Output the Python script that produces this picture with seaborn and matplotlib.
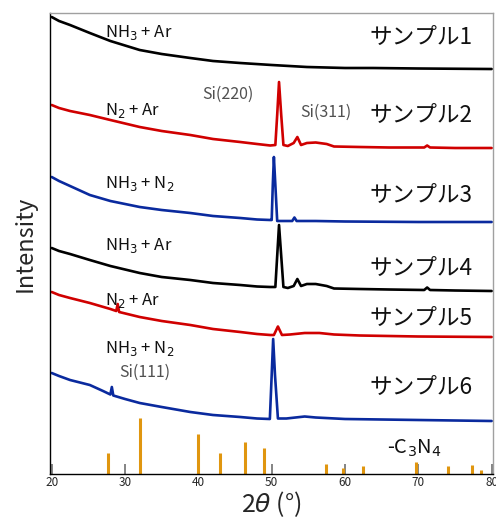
import numpy as np
import pandas as pd
import matplotlib
matplotlib.use("Agg")
import matplotlib.pyplot as plt
import seaborn as sns

# ---- data (intensity in display units, traces already stacked) ----
x1 = [20, 21, 22.5, 25.2, 28, 32, 35, 38.9, 42, 45.7, 50, 54.8, 60, 63.8, 70, 79.7, 80]
y1 = [457, 453, 449, 441, 433, 424, 420, 416, 413, 411, 409, 407, 406, 406, 405.5, 405, 405]

x2 = [20, 21, 22.5, 25.2, 28, 32, 35, 38.9, 42, 45.7, 48, 49.8, 50.5, 50.75, 51.0, 51.3, 51.6,
      52.2, 53.0, 53.5, 54.0, 54.8, 56.0, 57.5, 58.5, 62, 66, 70.8, 71.2, 71.6, 75, 80]
y2 = [369, 366, 363, 359, 354, 347, 343, 339, 335, 332, 330, 328.5, 329, 359, 392, 359, 329,
      328, 331, 337, 329, 331, 331.5, 330, 327.5, 327, 326.5, 326.5, 328.5, 326.5, 326, 326]

x3 = [20, 21, 22.5, 25.2, 28, 32, 35, 38.9, 42, 45.7, 48, 49.8, 50.0, 50.15, 50.3, 50.5, 50.75,
      52.8, 53.1, 53.4, 56, 60, 70, 80]
y3 = [297, 293, 288, 279, 273, 267, 264, 261, 258, 256, 254.5, 254, 254, 289, 317, 289, 253,
      253, 256.5, 253, 253, 252.5, 252, 252]

x4 = [20, 21, 22.5, 25.2, 28, 32, 35, 38.9, 42, 45.7, 48, 49.8, 50.5, 50.75, 51.0, 51.3, 51.6,
      52.2, 53.0, 53.5, 54.0, 54.8, 56.0, 57.5, 58.5, 62, 66, 70.8, 71.2, 71.6, 75, 80]
y4 = [226, 223, 220, 214, 208, 201, 197, 194, 191, 189, 187.5, 187, 187, 218, 249, 218, 187,
      186, 188, 195, 188, 190, 190, 188, 185.5, 185, 184.5, 184, 186.5, 184, 183.5, 183]

x5 = [20, 21, 22.5, 25.2, 28, 28.8, 29.0, 29.2, 32, 35, 38.9, 42, 45.7, 48, 49.8, 50.3, 50.85,
      51.4, 52.5, 54.5, 56.5, 58.5, 62, 70, 80]
y5 = [182, 179, 176, 171, 165, 163, 170, 162, 157, 153, 149, 145, 142, 140, 139, 139, 147.5,
      139, 139.5, 141, 141, 139.5, 138.5, 137.5, 137]

x6 = [20, 21, 22.5, 25.2, 27, 28.0, 28.2, 28.4, 30, 32, 35, 38.9, 42, 45.7, 48, 49.75, 50.0,
      50.2, 50.45, 50.85, 52, 54.5, 56, 60, 70, 80]
y6 = [101, 98, 94, 89, 83, 79.5, 87, 78.5, 75, 71, 67, 62, 59, 57, 55.5, 55, 99,
      135, 99, 55.5, 55.5, 57.5, 56.5, 55, 54, 53]

stick_pos = [27.7, 32.0, 39.9, 42.9, 46.3, 48.9, 57.4, 59.7, 62.5, 69.7, 74.0, 77.3, 78.5]
stick_h = [21, 56, 40, 21, 32, 26, 10, 6, 8, 12, 8, 9, 4]

gas_labels = [r"NH$_3$ + Ar", r"N$_2$ + Ar", r"NH$_3$ + N$_2$",
              r"NH$_3$ + Ar", r"N$_2$ + Ar", r"NH$_3$ + N$_2$"]
gas_y = [437, 359, 286, 224, 169, 121]
sample_labels = ["サンプル1", "サンプル2", "サンプル3", "サンプル4", "サンプル5", "サンプル6"]
sample_y = [437, 359, 279, 206, 156, 87]
si_labels = ["Si(220)", "Si(311)", "Si(111)"]
si_x = [40.5, 53.85, 29.2]
si_y = [380, 362, 102]
xticks = [20, 30, 40, 50, 60, 70, 80]

colors = ["#000000", "#D00000", "#0A2A9E", "#000000", "#D00000", "#0A2A9E"]

# ---- plot ----
sns.set_theme(style="white")
plt.rcParams["font.family"] = ["Noto Sans CJK JP", "DejaVu Sans"]
plt.rcParams["mathtext.fontset"] = "dejavusans"

fig = plt.figure(figsize=(4.96, 5.19), dpi=100)
ax = fig.add_axes([49.5 / 496, 45 / 519, (493 - 49.5) / 496, (474 - 13) / 519])

traces = [(x1, y1), (x2, y2), (x3, y3), (x4, y4), (x5, y5), (x6, y6)]
for i, (xs, ys) in enumerate(traces):
    df = pd.DataFrame({"x": xs, "y": ys})
    sns.lineplot(data=df, x="x", y="y", ax=ax, color=colors[i], lw=1.9,
                 sort=False, estimator=None)

ax.vlines(stick_pos, 0, stick_h, color="#E0960F", lw=2.2)

for lab, y in zip(gas_labels, gas_y):
    ax.text(27.3, y, lab, fontsize=12, va="baseline", ha="left", color="#111111")
for lab, y in zip(sample_labels, sample_y):
    ax.text(63.4, y, lab, fontsize=16.3, va="center", ha="left", color="#111111")
for lab, x, y in zip(si_labels, si_x, si_y):
    ax.text(x, y, lab, fontsize=11.5, va="center", ha="left", color="#505050")
ax.text(65.7, 20, r"-C$_3$N$_4$", fontsize=14.5, va="baseline", ha="left", color="#111111")

ax.set_xlim(19.7, 80.18)
ax.set_ylim(0, 461)
ax.set_xticks(xticks)
ax.set_xticklabels([str(t) for t in xticks])
ax.set_yticks([])
ax.tick_params(axis="x", direction="in", length=7, width=1.2, color="#707070",
               labelsize=8.5, pad=1.5, bottom=True)
ax.set_xlabel(r"2$\mathit{\theta}$ (°)", fontsize=18, labelpad=0)
ax.set_ylabel("Intensity", fontsize=17, labelpad=9)

for s in ["left", "bottom"]:
    ax.spines[s].set_color("#000000")
    ax.spines[s].set_linewidth(1.0)
for s in ["top", "right"]:
    ax.spines[s].set_color("#A0A0A0")
    ax.spines[s].set_linewidth(1.0)

fig.savefig("out.png", dpi=100, facecolor="white")
